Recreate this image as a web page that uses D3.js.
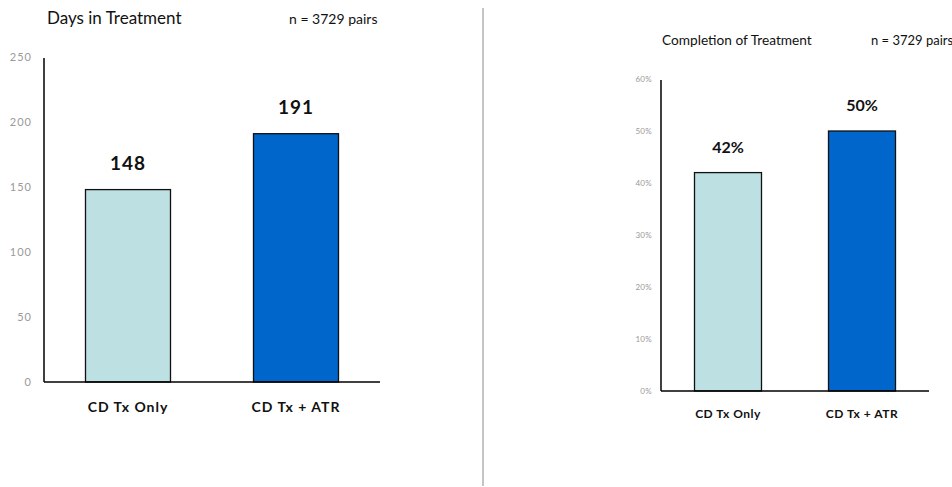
<!DOCTYPE html>
<html>
<head>
<meta charset="utf-8">
<script src="https://cdn.jsdelivr.net/npm/d3@7/dist/d3.min.js"></script>
<style>
  html, body { margin: 0; padding: 0; background: #fff; }
  svg { display: block; font-family: Lato, "Open Sans", sans-serif; }
</style>
</head>
<body>
<svg id="chart" width="952" height="487"></svg>
<script>
// Shared categories and colours
const categories = ["CD Tx Only", "CD Tx + ATR"];
const barColors = ["#bde0e2", "#0066cc"];

// Days in treatment panel
const daysValues = [148, 191];
const daysTicks = [0, 50, 100, 150, 200, 250];
const daysTitle = "Days in Treatment";

// Completion of treatment panel (percent)
const completionValues = [42, 50];
const completionTicks = [0, 10, 20, 30, 40, 50, 60];
const completionTitle = "Completion of Treatment";

const sampleNote = "n = 3729 pairs";

const svg = d3.select("#chart");

function drawPanel(cfg) {
  const g = svg.append("g");
  const x = d3.scaleBand()
    .domain(categories)
    .range([cfg.left, cfg.right])
    .paddingInner(cfg.padInner)
    .paddingOuter(cfg.padInner / 2);
  const y = d3.scaleLinear()
    .domain([0, cfg.max])
    .range([cfg.bottom, cfg.top]);

  // y tick labels (no tick marks)
  const yAxis = d3.axisLeft(y)
    .tickValues(cfg.ticks)
    .tickSize(0)
    .tickPadding(cfg.tickPad)
    .tickFormat(cfg.tickFormat);
  const ya = g.append("g")
    .attr("transform", `translate(${cfg.left},0)`)
    .call(yAxis);
  ya.select(".domain").remove();
  ya.selectAll("text")
    .attr("fill", "#999")
    .style("font-family", "Lato, sans-serif")
    .style("font-size", cfg.tickSize + "px")
    .style("letter-spacing", cfg.tickSpacing + "px");

  // bars
  g.selectAll("rect.bar")
    .data(cfg.values)
    .enter().append("rect")
    .attr("class", "bar")
    .attr("x", (d, i) => x(categories[i]))
    .attr("width", x.bandwidth())
    .attr("y", d => y(d))
    .attr("height", d => y(0) - y(d))
    .attr("fill", (d, i) => barColors[i])
    .attr("stroke", "#111")
    .attr("stroke-width", 1.3);

  // axis lines
  g.append("line")
    .attr("x1", cfg.left).attr("x2", cfg.left)
    .attr("y1", y(cfg.max) + 1).attr("y2", y(0))
    .attr("stroke", "#000").attr("stroke-width", 1.5);
  g.append("line")
    .attr("x1", cfg.left).attr("x2", cfg.right)
    .attr("y1", y(0)).attr("y2", y(0))
    .attr("stroke", "#000").attr("stroke-width", 1.5);

  // value labels
  g.selectAll("text.val")
    .data(cfg.values)
    .enter().append("text")
    .attr("class", "val")
    .attr("x", (d, i) => x(categories[i]) + x.bandwidth() / 2)
    .attr("y", d => y(d) - cfg.valGap)
    .attr("text-anchor", "middle")
    .attr("font-weight", "bold")
    .attr("font-size", cfg.valSize)
    .attr("fill", "#111")
    .style("letter-spacing", cfg.valSpacing + "px")
    .text(d => cfg.valFormat(d));

  // category labels
  g.selectAll("text.cat")
    .data(categories)
    .enter().append("text")
    .attr("class", "cat")
    .attr("x", d => x(d) + x.bandwidth() / 2)
    .attr("y", cfg.catY)
    .attr("text-anchor", "middle")
    .attr("font-weight", "bold")
    .attr("font-size", cfg.catSize)
    .attr("fill", "#111")
    .style("letter-spacing", cfg.catSpacing + "px")
    .text(d => d);

  // title and sample size
  g.append("text")
    .attr("x", cfg.titleX).attr("y", cfg.titleY)
    .attr("font-size", cfg.titleSize)
    .attr("fill", "#111")
    .text(cfg.title);
  g.append("text")
    .attr("x", cfg.noteX).attr("y", cfg.titleY)
    .attr("font-size", cfg.noteSize)
    .attr("fill", "#111")
    .text(sampleNote);
}

drawPanel({
  left: 44, right: 380, top: 57, bottom: 382, max: 250,
  padInner: 0.494,
  ticks: daysTicks, tickFormat: d => d, tickPad: 12, tickSize: 11, tickSpacing: 1,
  values: daysValues, valFormat: d => d, valSize: 19, valGap: 20, valSpacing: 1,
  catY: 412, catSize: 14, catSpacing: 1,
  title: daysTitle, titleX: 47, titleY: 24, titleSize: 17,
  noteX: 289, noteSize: 14
});

drawPanel({
  left: 661, right: 929, top: 79, bottom: 391, max: 60,
  padInner: 0.5,
  ticks: completionTicks, tickFormat: d => d + "%", tickPad: 9, tickSize: 8, tickSpacing: 0.3,
  values: completionValues, valFormat: d => d + "%", valSize: 16, valGap: 20, valSpacing: 0,
  catY: 418, catSize: 12, catSpacing: 0.5,
  title: completionTitle, titleX: 662, titleY: 45, titleSize: 13.7,
  noteX: 871, noteSize: 13
});

// divider between the two panels
svg.append("line")
  .attr("x1", 483).attr("x2", 483)
  .attr("y1", 8).attr("y2", 486)
  .attr("stroke", "#c4c4c4")
  .attr("stroke-width", 2);
</script>
</body>
</html>
